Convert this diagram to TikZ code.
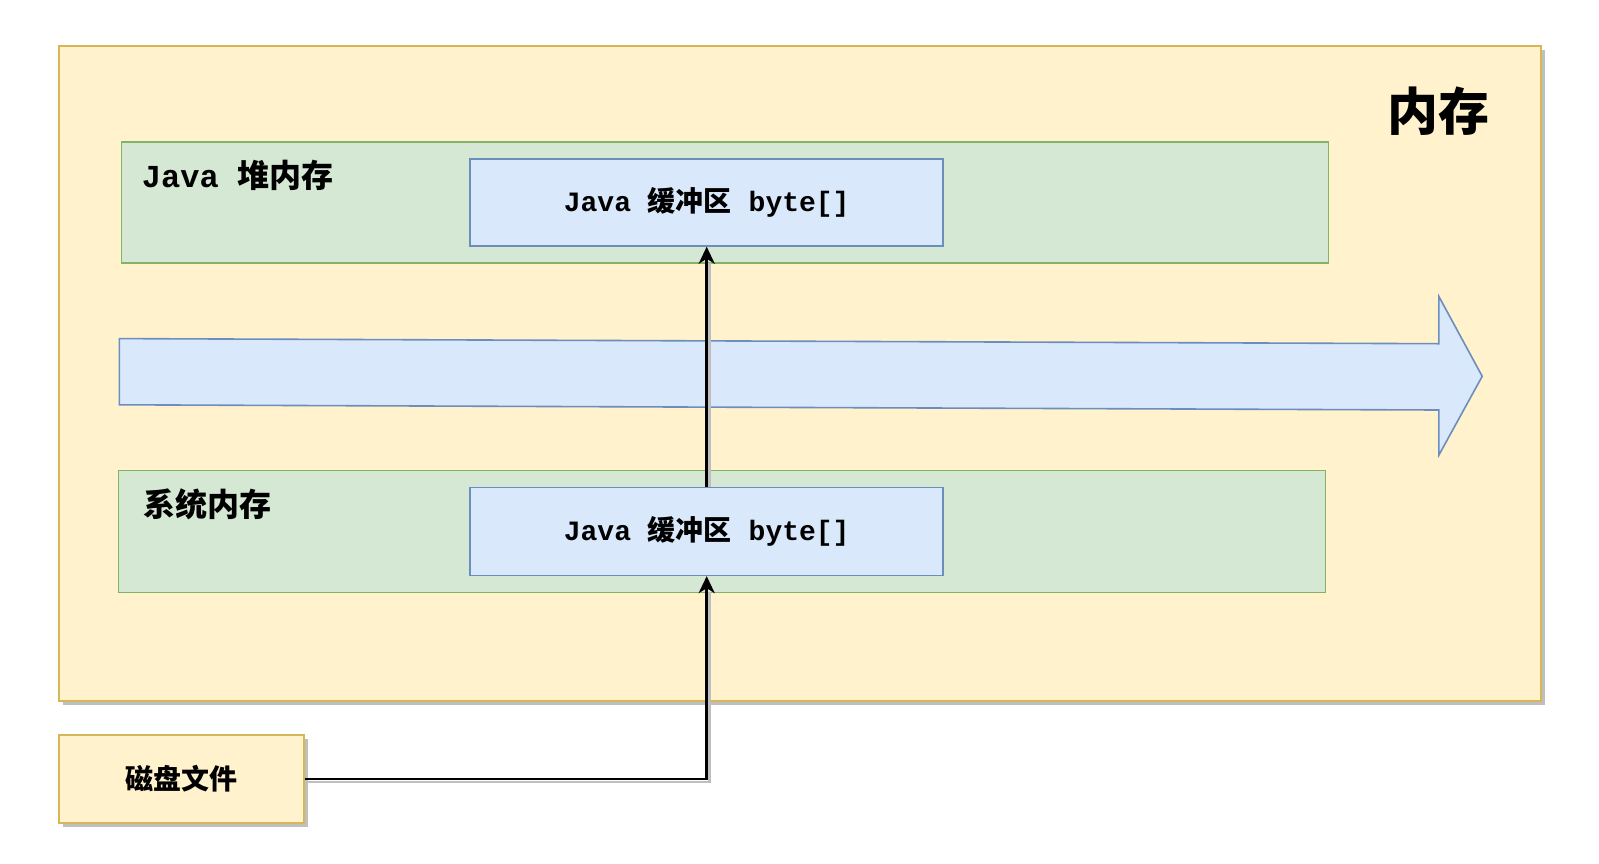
\documentclass[tikz,border=0pt]{standalone}
\usepackage{fontspec}
\setmonofont{Liberation Mono}
\newfontfamily\cjk{Noto Sans CJK SC}
\usetikzlibrary{arrows.meta, positioning, shadows}
\definecolor{memfill}{HTML}{FFF2CC}
\definecolor{memline}{HTML}{D6B656}
\definecolor{heapfill}{HTML}{D5E8D4}
\definecolor{heapline}{HTML}{82B366}
\definecolor{buffill}{HTML}{DAE8FC}
\definecolor{bufline}{HTML}{6C8EBF}

\begin{document}
\begin{tikzpicture}[x=1pt, y=-1pt, >={Stealth[length=17pt, width=16pt, inset=5pt]}]
        % Styles
        \tikzstyle{shadowed} = [drop shadow={shadow xshift=4pt, shadow yshift=-4pt, fill=black!25, opacity=1}]
        \tikzstyle{memblock} = [rectangle, draw=memline, fill=memfill, line width=2pt, inner sep=0pt]
        \tikzstyle{area} = [rectangle, draw=heapline, fill=heapfill, line width=1.6pt, inner sep=0pt, minimum width=1207pt]
        \tikzstyle{buffer} = [rectangle, draw=bufline, fill=buffill, line width=1.6pt, inner sep=0pt, minimum width=473pt, minimum height=87pt, font=\fontsize{28}{33}\selectfont\ttfamily\bfseries]
        \tikzstyle{title} = [inner sep=0pt, font=\fontsize{32}{37}\selectfont\bfseries]
        \tikzstyle{line} = [draw, line width=2.8pt, ->]
        \tikzstyle{lineshadow} = [draw, black!25, line width=2.8pt]

        \useasboundingbox (0,0) rectangle (1599,863);

        % Nodes
        \node (mem) [memblock, shadowed, minimum width=1482pt, minimum height=655pt] at (800,373.3) {};
        \node (memlabel) [title, font=\fontsize{51}{56}\selectfont\bfseries] at (1438.5,111) {\cjk 内存};

        \node (heap) [area, minimum height=121pt] at (725,202.4) {};
        \node (sys) [area, minimum height=122pt] at (722,531.3) {};
        \node (heaplabel) [title, anchor=west] at (141.7,175.4) {\ttfamily Java {\cjk 堆内存}};
        \node (syslabel) [title, anchor=west] at (142.8,503.8) {\cjk 系统内存};

        % Flow arrow
        \draw [bufline, fill=buffill, line width=1.6pt] (119.3,338.6) -- (1438.9,343.7) -- (1438.9,296.5) -- (1482.2,376.3)
            -- (1438.9,455) -- (1438.9,410) -- (119.3,404.8) -- cycle;

        \node (heapbuf) [buffer] at (706.7,202.4) {Java {\cjk 缓冲区} byte[]};
        \node (sysbuf) [buffer, minimum height=88pt] at (706.7,531.3) {Java {\cjk 缓冲区} byte[]};

        \node (disk) [memblock, shadowed, minimum width=245pt, minimum height=88pt,
            font=\fontsize{28}{33}\selectfont\bfseries] at (181.5,779) {\cjk 磁盘文件};

        % Edges
        \path [lineshadow] ([shift={(3,3)}]disk.east) -| ([shift={(3,16)}]sysbuf.south);
        \path [lineshadow] ([shift={(3,0)}]sysbuf.north) -- ([shift={(3,16)}]heapbuf.south);
        \path [line] (disk.east) -| (sysbuf.south);
        \path [line] (sysbuf.north) -- (heapbuf.south);

    \end{tikzpicture}
\end{document}
